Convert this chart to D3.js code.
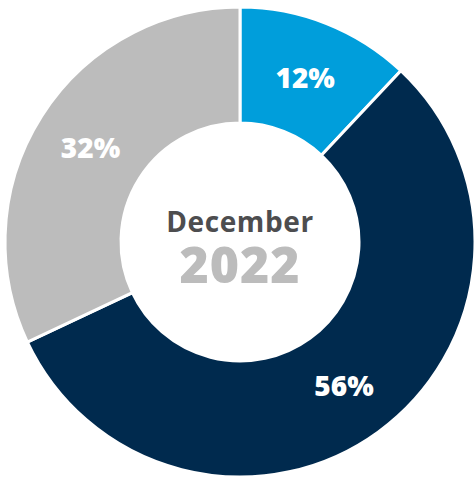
<!DOCTYPE html>
<html><head><meta charset="utf-8">
<script src="https://cdn.jsdelivr.net/npm/d3@7"></script>
<style>html,body{margin:0;padding:0;background:#fff;}svg{display:block;}</style>
</head><body>
<svg id="chart" width="474" height="479"></svg>
<script>
const categories = ["A", "B", "C"];
const values = [12, 56, 32];
const labels = ["12%", "56%", "32%"];
const colors = ["#009edb", "#002a4e", "#bcbcbc"];
const centerTitle = "December";
const centerYear = "2022";

const svg = d3.select("#chart");
const cx = 240, cy = 242, rOuter = 235, rInner = 119;
const font = "'Open Sans', Lato, sans-serif";
const g = svg.append("g").attr("transform", `translate(${cx},${cy})`);
const pie = d3.pie().sort(null).value(d => d)(values);
const arc = d3.arc().innerRadius(rInner).outerRadius(rOuter);
g.selectAll("path").data(pie).join("path")
  .attr("d", arc)
  .attr("fill", (d, i) => colors[i])
  .attr("stroke", "#fff").attr("stroke-width", 3).attr("stroke-linejoin", "miter");
g.selectAll("text.lbl").data(pie).join("text").attr("class", "lbl")
  .attr("transform", d => `translate(${arc.centroid(d)})`)
  .attr("text-anchor", "middle").attr("y", 11)
  .attr("fill", "#fff").attr("font-family", font)
  .attr("font-weight", 800).attr("font-size", 28)
  .text((d, i) => labels[i]);
g.append("text").attr("text-anchor", "middle").attr("y", -10)
  .attr("fill", "#4d4d4f").attr("font-family", font).attr("letter-spacing", 0.6)
  .attr("font-weight", 700).attr("font-size", 28).text(centerTitle);
g.append("text").attr("text-anchor", "middle").attr("y", 41)
  .attr("fill", "#bcbcbc").attr("font-family", font).attr("letter-spacing", 1)
  .attr("font-weight", 800).attr("font-size", 50).text(centerYear);
</script>
</body></html>
